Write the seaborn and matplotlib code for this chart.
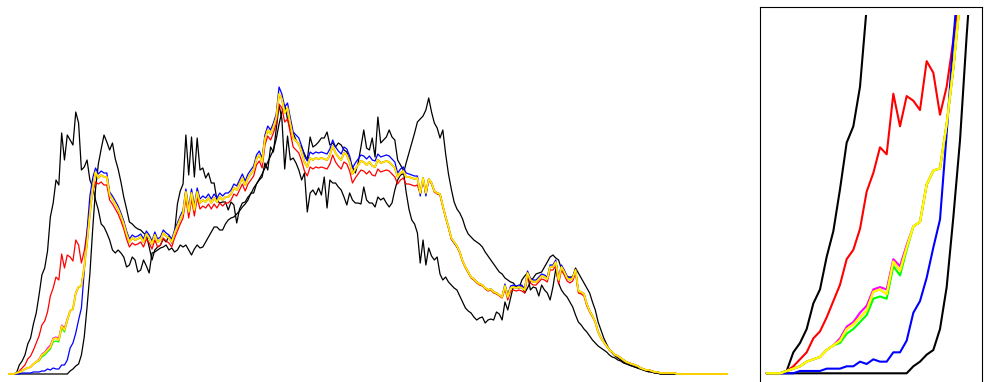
import numpy as np
import matplotlib
matplotlib.use("Agg")
import matplotlib.pyplot as plt
import seaborn as sns

# histogram bins 0..255
bins = list(range(256))

yellow = [
    0, 0, 0, 1, 2, 3, 5, 6, 7, 10, 12, 14, 19, 21, 24, 27,
    35, 36, 34, 48, 44, 54, 63, 65, 81, 87, 88, 107, 131, 160, 185, 202,
    196, 199, 197, 197, 179, 175, 170, 165, 158, 150, 140, 132, 136, 134, 135, 137,
    132, 140, 136, 130, 139, 132, 134, 141, 138, 136, 132, 141, 148, 155, 161, 182,
    162, 181, 164, 182, 171, 174, 172, 176, 171, 176, 172, 177, 174, 177, 177, 180,
    186, 184, 190, 196, 189, 196, 200, 204, 215, 219, 212, 235, 244, 240, 247, 256,
    280, 275, 261, 266, 250, 236, 233, 230, 222, 212, 207, 216, 214, 216, 215, 216,
    215, 214, 219, 228, 221, 217, 214, 221, 219, 212, 200, 205, 209, 213, 212, 209,
    212, 208, 207, 214, 211, 212, 213, 212, 209, 206, 197, 201, 203, 197, 197, 196,
    195, 196, 181, 196, 181, 195, 191, 183, 181, 180, 168, 157, 147, 136, 132, 128,
    122, 113, 107, 102, 97, 95, 92, 90, 89, 86, 84, 85, 82, 81, 79, 77,
    88, 77, 86, 87, 86, 87, 86, 84, 101, 94, 92, 92, 95, 98, 97, 95,
    107, 107, 112, 94, 107, 102, 96, 94, 96, 104, 83, 82, 80, 70, 63, 58,
    52, 42, 36, 32, 28, 24, 22, 19, 18, 16, 14, 12, 11, 10, 9, 8,
    6, 5, 4, 4, 3, 2, 2, 1, 1, 1, 1, 1, 1, 0, 0, 0,
    0, 0, 0, 0, 0, 0, 0, 0, 0, 0, 0, 0, 0, 0, 0, 0,
]

orange = [
    0, 0, 0, 1, 2, 3, 5, 6, 7, 10, 12, 14, 19, 21, 24, 27,
    35, 36, 34, 48, 44, 54, 63, 65, 81, 87, 88, 107, 131, 160, 185, 202,
    196, 199, 197, 197, 179, 175, 170, 165, 158, 150, 140, 132, 136, 134, 135, 137,
    132, 140, 136, 130, 139, 132, 134, 141, 138, 136, 132, 141, 148, 155, 161, 182,
    162, 181, 164, 182, 171, 174, 172, 176, 171, 176, 172, 177, 174, 177, 177, 180,
    186, 184, 190, 196, 189, 196, 200, 204, 215, 219, 212, 235, 244, 240, 247, 256,
    280, 275, 261, 266, 250, 236, 233, 230, 222, 212, 207, 216, 214, 216, 215, 216,
    215, 214, 219, 228, 221, 217, 214, 221, 219, 212, 200, 205, 209, 213, 212, 209,
    212, 208, 207, 214, 211, 212, 213, 212, 209, 206, 197, 201, 203, 197, 197, 196,
    195, 196, 181, 196, 181, 195, 191, 183, 181, 180, 168, 157, 147, 136, 132, 128,
    122, 113, 107, 102, 97, 95, 92, 90, 89, 86, 84, 85, 82, 81, 79, 77,
    88, 77, 86, 87, 86, 87, 86, 84, 101, 94, 92, 92, 95, 98, 97, 95,
    107, 107, 112, 94, 107, 102, 96, 94, 96, 104, 83, 82, 80, 70, 63, 58,
    52, 42, 36, 32, 28, 24, 22, 19, 18, 16, 14, 12, 11, 10, 9, 8,
    6, 5, 4, 4, 3, 2, 2, 1, 1, 1, 1, 1, 1, 0, 0, 0,
    0, 0, 0, 0, 0, 0, 0, 0, 0, 0, 0, 0, 0, 0, 0, 0,
]

magenta = [
    0, 0, 0, 1, 2, 3, 5, 6, 7, 10, 12, 15, 20, 22, 26, 29,
    36, 37, 36, 49, 46, 55, 63, 65, 81, 87, 88, 107, 131, 160, 185, 202,
    196, 199, 197, 197, 179, 175, 170, 165, 158, 150, 140, 132, 136, 134, 135, 137,
    132, 140, 136, 130, 139, 132, 134, 141, 138, 136, 132, 141, 148, 155, 161, 182,
    162, 181, 164, 182, 171, 174, 172, 176, 171, 176, 172, 177, 174, 177, 177, 180,
    186, 184, 190, 196, 189, 196, 200, 204, 215, 219, 212, 235, 244, 240, 247, 256,
    280, 275, 261, 266, 250, 236, 233, 230, 222, 212, 207, 216, 214, 216, 215, 216,
    215, 214, 219, 228, 221, 217, 214, 221, 219, 212, 200, 205, 209, 213, 212, 209,
    212, 208, 207, 214, 211, 212, 213, 212, 209, 206, 197, 201, 203, 197, 197, 196,
    195, 196, 181, 196, 181, 195, 191, 183, 181, 180, 168, 157, 147, 136, 132, 128,
    122, 113, 107, 102, 97, 95, 92, 90, 89, 86, 84, 85, 82, 81, 79, 77,
    88, 77, 86, 87, 86, 87, 86, 84, 101, 94, 92, 92, 95, 98, 97, 95,
    107, 107, 112, 94, 107, 102, 96, 94, 96, 104, 83, 82, 80, 70, 63, 58,
    52, 42, 36, 32, 28, 24, 22, 19, 18, 16, 14, 12, 11, 10, 9, 8,
    6, 5, 4, 4, 3, 2, 2, 1, 1, 1, 1, 1, 1, 0, 0, 0,
    0, 0, 0, 0, 0, 0, 0, 0, 0, 0, 0, 0, 0, 0, 0, 0,
]

green = [
    0, 0, 0, 1, 2, 3, 5, 6, 7, 10, 12, 13, 17, 19, 22, 25,
    32, 33, 32, 46, 42, 53, 63, 65, 81, 87, 88, 107, 131, 160, 185, 202,
    196, 199, 197, 197, 179, 175, 170, 165, 158, 150, 140, 132, 136, 134, 135, 137,
    132, 140, 136, 130, 139, 132, 134, 141, 138, 136, 132, 141, 148, 155, 161, 182,
    162, 181, 164, 182, 171, 174, 172, 176, 171, 176, 172, 177, 174, 177, 177, 180,
    186, 184, 190, 196, 189, 196, 200, 204, 215, 219, 212, 235, 244, 240, 247, 256,
    280, 275, 261, 266, 250, 236, 233, 230, 222, 212, 207, 216, 214, 216, 215, 216,
    215, 214, 219, 228, 221, 217, 214, 221, 219, 212, 200, 205, 209, 213, 212, 209,
    212, 208, 207, 214, 211, 212, 213, 212, 209, 206, 197, 201, 203, 197, 197, 196,
    195, 196, 181, 196, 181, 195, 191, 183, 181, 180, 168, 157, 147, 136, 132, 128,
    122, 113, 107, 102, 97, 95, 92, 90, 89, 86, 84, 85, 82, 81, 79, 77,
    88, 77, 86, 87, 86, 87, 86, 84, 101, 94, 92, 92, 95, 98, 97, 95,
    107, 107, 112, 94, 107, 102, 96, 94, 96, 104, 83, 82, 80, 70, 63, 58,
    52, 42, 36, 32, 28, 24, 22, 19, 18, 16, 14, 12, 11, 10, 9, 8,
    6, 5, 4, 4, 3, 2, 2, 1, 1, 1, 1, 1, 1, 0, 0, 0,
    0, 0, 0, 0, 0, 0, 0, 0, 0, 0, 0, 0, 0, 0, 0, 0,
]

blue = [
    0, 0, 0, 0, 0, 1, 1, 1, 1, 2, 2, 2, 3, 3, 5, 4,
    6, 5, 5, 9, 9, 14, 26, 31, 41, 54, 66, 103, 143, 178, 196, 206,
    200, 203, 201, 201, 182, 178, 173, 168, 161, 153, 143, 135, 139, 137, 138, 140,
    135, 143, 139, 133, 142, 135, 137, 144, 141, 139, 135, 144, 151, 158, 164, 185,
    166, 185, 168, 186, 175, 178, 176, 180, 175, 180, 176, 181, 178, 181, 181, 184,
    190, 188, 194, 200, 193, 200, 204, 208, 219, 223, 216, 239, 248, 244, 251, 260,
    287, 280, 267, 271, 256, 242, 239, 236, 228, 218, 213, 222, 220, 222, 221, 222,
    221, 220, 225, 234, 227, 223, 220, 227, 225, 218, 206, 211, 215, 219, 218, 215,
    218, 214, 213, 220, 217, 218, 219, 218, 215, 212, 201, 205, 207, 201, 200, 199,
    198, 198, 178, 196, 178, 195, 191, 183, 181, 180, 168, 157, 147, 135, 131, 127,
    122, 113, 107, 102, 97, 95, 92, 90, 89, 86, 84, 85, 82, 81, 79, 77,
    90, 79, 88, 89, 88, 89, 88, 86, 103, 96, 94, 94, 97, 100, 99, 97,
    109, 109, 114, 96, 109, 104, 98, 96, 97, 104, 83, 82, 80, 70, 63, 58,
    52, 42, 36, 32, 28, 24, 22, 19, 18, 16, 14, 12, 11, 10, 9, 8,
    6, 5, 4, 4, 3, 2, 2, 1, 1, 1, 1, 1, 1, 0, 0, 0,
    0, 0, 0, 0, 0, 0, 0, 0, 0, 0, 0, 0, 0, 0, 0, 0,
]

red = [
    0, 0, 0, 1, 3, 6, 9, 15, 18, 24, 31, 38, 49, 53, 62, 78,
    86, 97, 94, 120, 106, 119, 117, 113, 134, 129, 111, 123, 143, 165, 182, 192,
    190, 192, 189, 189, 174, 170, 165, 160, 153, 145, 135, 127, 131, 129, 130, 132,
    127, 135, 131, 125, 134, 127, 129, 136, 133, 131, 127, 136, 143, 150, 156, 176,
    156, 175, 158, 176, 165, 168, 166, 170, 165, 170, 166, 171, 168, 171, 171, 174,
    180, 178, 184, 190, 183, 190, 194, 198, 209, 213, 206, 229, 238, 234, 241, 250,
    270, 266, 252, 255, 241, 227, 224, 221, 213, 203, 198, 207, 205, 207, 206, 207,
    206, 205, 210, 219, 212, 208, 205, 212, 210, 203, 191, 196, 200, 204, 203, 200,
    203, 199, 198, 205, 202, 203, 204, 203, 200, 197, 190, 194, 196, 190, 190, 189,
    188, 189, 180, 195, 180, 194, 190, 182, 180, 179, 167, 156, 146, 135, 131, 127,
    121, 112, 106, 101, 96, 94, 91, 89, 88, 85, 83, 84, 81, 80, 78, 76,
    85, 74, 83, 84, 83, 84, 83, 81, 98, 91, 89, 89, 92, 95, 94, 92,
    104, 104, 108, 90, 104, 99, 93, 91, 93, 101, 81, 80, 78, 68, 62, 57,
    52, 42, 36, 32, 28, 24, 22, 19, 18, 16, 14, 12, 11, 10, 9, 8,
    6, 5, 4, 4, 3, 2, 2, 1, 1, 1, 1, 1, 1, 0, 0, 0,
    0, 0, 0, 0, 0, 0, 0, 0, 0, 0, 0, 0, 0, 0, 0, 0,
]

black_a = [
    0, 0, 0, 1, 9, 13, 19, 30, 36, 50, 61, 79, 99, 106, 123, 157,
    171, 194, 189, 241, 214, 239, 234, 229, 262, 251, 204, 207, 214, 194, 187, 174,
    164, 150, 147, 141, 134, 124, 121, 124, 121, 117, 107, 109, 117, 114, 102, 104,
    114, 108, 101, 121, 122, 124, 126, 127, 129, 124, 126, 122, 124, 129, 127, 129,
    124, 119, 125, 129, 126, 127, 132, 137, 142, 147, 147, 144, 144, 150, 154, 156,
    157, 160, 163, 167, 170, 174, 181, 181, 190, 194, 197, 211, 204, 227, 222, 245,
    269, 255, 205, 238, 214, 216, 211, 204, 194, 201, 162, 181, 184, 179, 186, 179,
    197, 166, 194, 191, 191, 187, 184, 177, 169, 181, 174, 171, 171, 170, 187, 174,
    171, 171, 167, 177, 174, 176, 171, 167, 171, 184, 194, 199, 200, 211, 221, 231,
    241, 252, 255, 258, 264, 276, 262, 251, 246, 236, 244, 220, 200, 185, 172, 165,
    161, 155, 146, 140, 137, 134, 132, 130, 127, 122, 118, 114, 110, 106, 102, 100,
    96, 94, 92, 91, 87, 87, 89, 81, 86, 92, 96, 100, 101, 102, 107, 112,
    117, 119, 116, 114, 105, 101, 97, 97, 97, 106, 101, 96, 91, 86, 81, 72,
    64, 52, 44, 36, 30, 24, 21, 18, 16, 14, 12, 11, 9, 8, 7, 6,
    5, 4, 3, 2, 2, 1, 1, 0, 0, 0, 0, 0, 0, 0, 0, 0,
    0, 0, 0, 0, 0, 0, 0, 0, 0, 0, 0, 0, 0, 0, 0, 0,
]

black_b = [
    0, 0, 0, 0, 0, 0, 0, 0, 0, 0, 0, 0, 0, 0, 0, 0,
    0, 0, 0, 0, 0, 0, 3, 5, 8, 10, 19, 37, 67, 100, 145, 185,
    210, 225, 239, 232, 224, 231, 215, 205, 192, 177, 165, 152, 150, 147, 145, 144,
    141, 139, 127, 114, 124, 127, 129, 135, 132, 138, 131, 142, 170, 183, 190, 239,
    199, 237, 197, 236, 204, 206, 196, 201, 191, 191, 174, 171, 172, 172, 164, 172,
    169, 151, 165, 171, 172, 177, 180, 186, 190, 195, 200, 206, 212, 218, 224, 235,
    250, 262, 269, 255, 245, 241, 234, 229, 227, 220, 214, 237, 227, 229, 232, 236,
    236, 242, 229, 231, 227, 231, 229, 224, 222, 214, 207, 201, 211, 227, 244, 226,
    224, 236, 217, 257, 231, 234, 237, 244, 237, 234, 214, 209, 204, 182, 165, 154,
    150, 141, 111, 134, 109, 126, 118, 114, 117, 100, 94, 97, 92, 89, 86, 84,
    78, 72, 66, 63, 61, 57, 54, 56, 57, 51, 54, 55, 54, 62, 60, 54,
    72, 64, 76, 88, 87, 86, 94, 98, 101, 84, 87, 86, 78, 89, 84, 81,
    74, 87, 105, 91, 84, 80, 77, 72, 67, 59, 52, 49, 45, 42, 38, 34,
    31, 28, 26, 24, 22, 19, 17, 16, 14, 13, 11, 10, 9, 8, 7, 6,
    5, 4, 3, 3, 2, 1, 1, 0, 0, 0, 0, 0, 0, 0, 0, 0,
    0, 0, 0, 0, 0, 0, 0, 0, 0, 0, 0, 0, 0, 0, 0, 0,
]

# (values, colour, width in main panel)
series = [
    (black_a, "black", 0.9),
    (black_b, "black", 0.9),
    (red, "#ff0000", 0.9),
    (blue, "#0000ff", 0.9),
    (magenta, "#ff00ff", 0.9),
    (green, "#00ff00", 0.9),
    (orange, "#ffa500", 1.4),
    (yellow, "#ffff00", 0.7),
]

sns.set_style("white")
fig = plt.figure(figsize=(9.84, 3.82), dpi=100)

# main panel, no axes drawn
ax = fig.add_axes([8 / 984, 2 / 382, 720 / 984, 373 / 382])
for vals, col, lw in series:
    sns.lineplot(x=bins, y=vals, color=col, linewidth=lw, ax=ax,
                 estimator=None, errorbar=None)
ax.set_xlim(0, 255)
ax.set_ylim(-6, 367)
ax.axis("off")

# zoomed panel: frame + clipped lines
frame = fig.add_axes([759.5 / 984, -8 / 382, 222 / 984, 383.5 / 382])
frame.set_xticks([])
frame.set_yticks([])
frame.patch.set_alpha(0)
for s in frame.spines.values():
    s.set_color("black")
    s.set_linewidth(0.8)

axz = fig.add_axes([760 / 984, -4 / 382, 221 / 984, 371 / 382])
for vals, col, lw in series:
    sns.lineplot(x=bins, y=vals, color=col, linewidth=1.5, ax=axz,
                 estimator=None, errorbar=None)
axz.set_xlim(-1.0, 32.15)
axz.set_ylim(-5.45, 153.8)
axz.axis("off")

fig.savefig("out.png", dpi=100)
